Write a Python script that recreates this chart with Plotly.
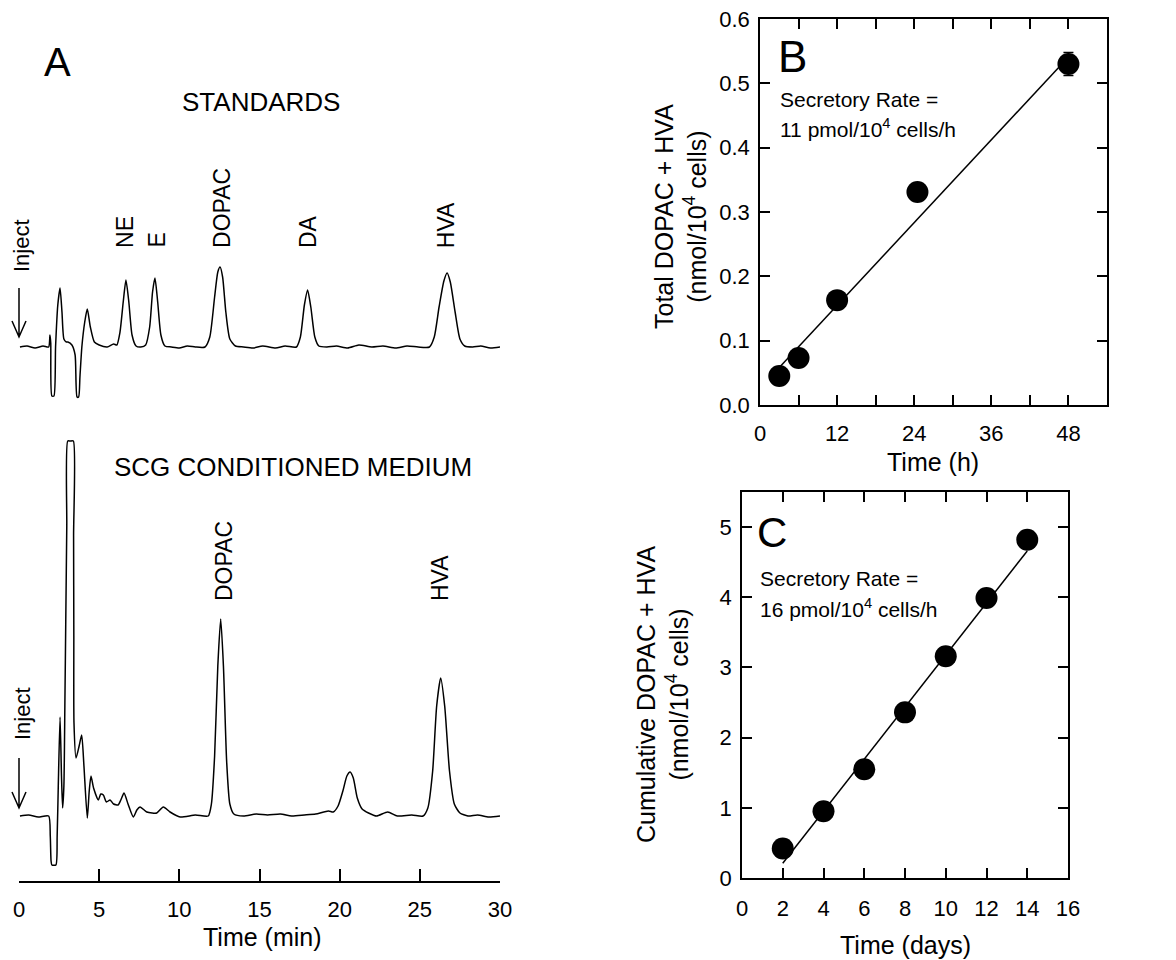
import plotly.graph_objects as go

W, H = 1176, 960
FONT = "Liberation Sans, Arial, sans-serif"

# ---------------- Panel A data (time in min, detector response, arbitrary units) ----------------
std_t = [0.06, 0.5, 1.0, 1.5, 1.85, 1.93, 1.98, 2.05, 2.18, 2.28, 2.42, 2.56, 2.68, 2.8, 2.95, 3.05,
         3.3, 3.5, 3.62, 3.72, 3.8, 3.92, 4.1, 4.26, 4.45, 4.7, 5.0, 5.5, 5.9, 6.1, 6.3, 6.5, 6.67,
         6.85, 7.05, 7.3, 7.6, 7.9, 8.15, 8.33, 8.48, 8.65, 8.85, 9.1, 9.5, 10.0, 10.5, 11.0,
         11.6, 11.9, 12.2, 12.4, 12.54, 12.7, 12.9, 13.15, 13.5, 14.0, 14.6, 15.2, 16.0, 16.6,
         17.3, 17.55, 17.8, 18.0, 18.2, 18.45, 18.7, 19.2, 19.8, 20.5, 21.2, 22.0, 22.7, 23.5,
         24.2, 24.9, 25.6, 25.9, 26.2, 26.5, 26.7, 26.9, 27.2, 27.5, 27.8, 28.3, 28.8, 29.4, 30.0]
std_r = [0, 1, -1, 1, 0, 12, 4, -49, -49, 0, 42, 59, 35, 8, 5, 5,
         2, -8, -50, -50, -30, 0, 25, 38, 20, 5, 2, 0, 3, 2, 15, 45, 67,
         45, 12, 1, 0, 2, 20, 55, 69, 45, 12, 1, 0, -1, 1, 0,
         0, 10, 50, 75, 80, 70, 35, 8, 1, 0, -1, 1, -1, 1,
         0, 10, 42, 57, 40, 10, 1, 0, 1, -1, 2, 0, 1, -1,
         1, 0, 0, 10, 40, 66, 74, 65, 35, 8, 1, 0, 1, -1, 0]

scg_t = [0.06, 0.6, 1.2, 1.85, 1.95, 2.0, 2.05, 2.3, 2.38, 2.45, 2.56, 2.65, 2.72, 2.8, 2.86,
         2.92, 2.98, 3.04, 3.2, 3.39, 3.405, 3.42, 3.43, 3.56, 3.75, 3.91, 4.05, 4.26, 4.38,
         4.49, 4.65, 4.95, 5.1, 5.26, 5.45, 5.68,
         5.9, 6.18, 6.35, 6.55, 6.8, 7.13, 7.35, 7.55, 7.97, 8.3, 8.59, 9.0, 9.42, 10.05, 11.0,
         11.8, 12.0, 12.2, 12.4, 12.58, 12.75, 12.95, 13.15, 13.4, 14.0, 14.8, 15.5, 16.3, 17.0,
         17.8, 18.5, 19.3, 19.6, 19.9, 20.2, 20.45, 20.65, 20.85, 21.1, 21.4, 21.8, 22.3, 23.0,
         23.6, 24.5, 25.2, 25.5, 25.8, 26.05, 26.3, 26.55, 26.85, 27.15, 27.5, 28.0, 28.6, 29.3, 30.0]
scg_r = [0, 1, -1, 0, -20, -45, -49, -49, -20, 30, 99, 40, 8, 30, 110,
         200, 290, 375, 375, 375, 280, 180, 93, 58, 70, 81, 50, -2, 25,
         40, 28, 16, 22, 21, 14, 16,
         12, 11, 16, 23, 12, -1, 6, 9, 4, 3, 3, 9, 4, -1, 1,
         0, 12, 60, 150, 197, 150, 55, 12, 2, 0, 2, 1, 2, 0,
         1, 2, 5, 4, 10, 25, 40, 44, 38, 18, 7, 3, 0, 4,
         0, 1, 0, 8, 45, 110, 138, 110, 45, 12, 3, 0, 1, -1, 0]

std_labels = ["NE", "E", "DOPAC", "DA", "HVA"]
std_label_t = [6.61, 8.55, 12.66, 18.0, 26.64]
scg_labels = ["DOPAC", "HVA"]
scg_label_t = [12.79, 26.26]
a_ticks = [0, 5, 10, 15, 20, 25, 30]

# ---------------- Panel B data ----------------
b_time = [3, 6, 12, 24.5, 48]
b_total = [0.045, 0.073, 0.163, 0.331, 0.530]
b_err = [0, 0, 0, 0, 0.018]
b_fit_x = [2.6, 48]
b_fit_y = [0.054, 0.541]
b_xticks = [0, 12, 24, 36, 48]
b_yticks = [0, 0.1, 0.2, 0.3, 0.4, 0.5, 0.6]

# ---------------- Panel C data ----------------
c_days = [2, 4, 6, 8, 10, 12, 14]
c_cum = [0.42, 0.95, 1.55, 2.36, 3.16, 3.99, 4.82]
c_fit_x = [2.0, 14.0]
c_fit_y = [0.21, 4.66]
c_xticks = [0, 2, 4, 6, 8, 10, 12, 14, 16]
c_yticks = [0, 1, 2, 3, 4, 5]


def fx(p):
    return p / W


def fy(p):
    return 1 - p / H


fig = go.Figure()

chrom_line = dict(color="black", width=1.5, shape="spline", smoothing=0.6)
fig.add_trace(go.Scatter(x=std_t, y=std_r, mode="lines", line=chrom_line,
                         xaxis="x", yaxis="y3", showlegend=False, hoverinfo="skip"))
fig.add_trace(go.Scatter(x=scg_t, y=scg_r, mode="lines", line=chrom_line,
                         xaxis="x", yaxis="y", showlegend=False, hoverinfo="skip"))

# panel B
fig.add_trace(go.Scatter(x=b_fit_x, y=b_fit_y, mode="lines", line=dict(color="black", width=1.5),
                         xaxis="x2", yaxis="y2", showlegend=False))
fig.add_trace(go.Scatter(x=b_time, y=b_total, mode="markers",
                         marker=dict(color="black", size=22),
                         error_y=dict(type="data", array=b_err, visible=True, color="black",
                                      thickness=1.5, width=5),
                         xaxis="x2", yaxis="y2", showlegend=False))

# panel C
fig.add_trace(go.Scatter(x=c_fit_x, y=c_fit_y, mode="lines", line=dict(color="black", width=1.5),
                         xaxis="x3", yaxis="y4", showlegend=False))
fig.add_trace(go.Scatter(x=c_days, y=c_cum, mode="markers", marker=dict(color="black", size=22),
                         xaxis="x3", yaxis="y4", showlegend=False))

tickfont = dict(family=FONT, size=22, color="black")
box = dict(showline=True, mirror="ticks", linecolor="black", linewidth=1.5,
           ticks="inside", ticklen=10, tickwidth=1.5, tickcolor="black",
           tickfont=tickfont, showgrid=False, zeroline=False)

A_BASE_BOT = 816
A_BASE_TOP = 347
fig.update_layout(
    width=W, height=H, autosize=False,
    margin=dict(l=0, r=0, t=0, b=0, autoexpand=False),
    paper_bgcolor="white", plot_bgcolor="rgba(0,0,0,0)",
    font=dict(family=FONT, color="black"),
    xaxis=dict(domain=[fx(19), fx(500)], range=[0, 30], anchor="y",
               showline=True, linecolor="black", linewidth=1.5,
               ticks="inside", ticklen=12, tickwidth=1.5, tickcolor="black",
               tickvals=a_ticks, tickfont=tickfont, showgrid=False, zeroline=False,
               ticklabelstandoff=8),
    yaxis=dict(domain=[fy(881), fy(430)], range=[A_BASE_BOT - 881, A_BASE_BOT - 430],
               visible=False),
    yaxis3=dict(domain=[fy(410), fy(150)], range=[A_BASE_TOP - 410, A_BASE_TOP - 150],
                visible=False, anchor="x"),
    xaxis2=dict(domain=[fx(760), fx(1107)], range=[0, 54], anchor="y2",
                tickvals=b_xticks, ticklabelstandoff=8,
                minor=dict(dtick=6, tick0=0, ticks="inside", ticklen=10, tickwidth=1.5,
                           tickcolor="black"), **box),
    yaxis2=dict(domain=[fy(405), fy(19)], range=[0, 0.6], anchor="x2",
                tickvals=b_yticks, tickformat=".1f", ticklabelstandoff=4, **box),
    xaxis3=dict(domain=[fx(742), fx(1068)], range=[0, 16], anchor="y4",
                tickvals=c_xticks, ticklabelstandoff=10, **box),
    yaxis4=dict(domain=[fy(878), fy(492)], range=[0, 5.5], anchor="x3",
                tickvals=c_yticks, ticklabelstandoff=4, **box),
)

ann = []


def text(x, y, s, size, xanchor="center", yanchor="middle", angle=0, xref="paper"):
    ann.append(dict(x=x, y=y, xref=xref, yref="paper", text=s, showarrow=False,
                    xanchor=xanchor, yanchor=yanchor, textangle=angle,
                    font=dict(family=FONT, size=size, color="black")))


# Panel A texts
text(fx(57), fy(62), "A", 40)
text(fx(261), fy(102), "STANDARDS", 26)
text(fx(293), fy(467), "SCG CONDITIONED MEDIUM", 26)
text(fx(262), fy(937), "Time (min)", 25)
text(fx(22), fy(246), "Inject", 22, angle=-90)
text(fx(22), fy(714), "Inject", 22, angle=-90)
for lab, t in zip(std_labels, std_label_t):
    text(t, fy(250), lab, 23, yanchor="bottom", angle=-90, xref="x")
for lab, t in zip(scg_labels, scg_label_t):
    text(t, fy(603), lab, 23, yanchor="bottom", angle=-90, xref="x")

# Panel B texts
text(fx(792), fy(56), "B", 44)
text(fx(778), fy(100), "Secretory Rate =", 21, xanchor="left")
text(fx(778), fy(128), "11 pmol/10<sup>4</sup> cells/h", 21, xanchor="left")
text(fx(680), fy(217), "Total DOPAC + HVA<br>(nmol/10<sup>4</sup> cells)", 25, angle=-90)
text(fx(933), fy(462), "Time (h)", 25)

# Panel C texts
text(fx(772), fy(532), "C", 42)
text(fx(758), fy(578), "Secretory Rate =", 21, xanchor="left")
text(fx(758), fy(608), "16 pmol/10<sup>4</sup> cells/h", 21, xanchor="left")
text(fx(662), fy(695), "Cumulative DOPAC + HVA<br>(nmol/10<sup>4</sup> cells)", 25, angle=-90)
text(fx(905), fy(945), "Time (days)", 25)

fig.update_layout(annotations=ann)

# Inject arrows (open V heads)
shapes = []
for y0, y1 in [(288, 337), (758, 808)]:
    path = (f"M {fx(19)},{fy(y0)} L {fx(19)},{fy(y1)} "
            f"M {fx(12)},{fy(y1 - 16)} L {fx(19)},{fy(y1)} L {fx(26)},{fy(y1 - 16)}")
    shapes.append(dict(type="path", xref="paper", yref="paper", path=path,
                       line=dict(color="black", width=1.5)))
fig.update_layout(shapes=shapes)

fig.write_html("out.html", config={"displayModeBar": False},
               post_script="document.body.style.margin='0';document.body.style.padding='0';"
                           "document.body.style.overflow='hidden';")
